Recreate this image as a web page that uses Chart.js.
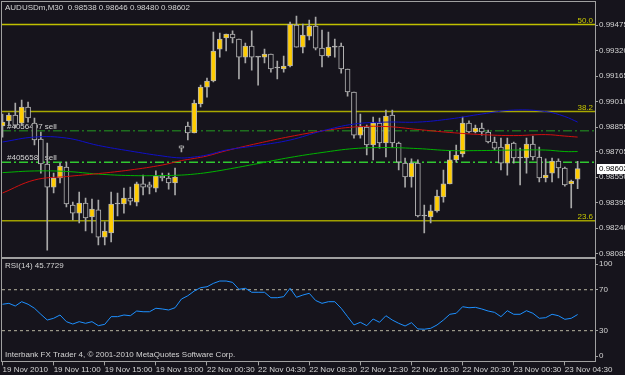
<!DOCTYPE html>
<html>
<head>
<meta charset="utf-8">
<title>AUDUSDm,M30</title>
<script src="https://cdn.jsdelivr.net/npm/chart.js@4.4.0/dist/chart.umd.min.js"></script>
<style>
  html, body { margin: 0; padding: 0; background: #16141c; }
  #wrap { position: relative; width: 625px; height: 375px; overflow: hidden; }
  #priceChart { position: absolute; left: 0; top: 0; }
  #rsiChart { position: absolute; left: 0; top: 257px; }
</style>
</head>
<body>
<div id="wrap">
  <canvas id="priceChart" width="625" height="258"></canvas>
  <canvas id="rsiChart" width="625" height="118"></canvas>
</div>
<script>
// AUDUSDm M30 bars, 19 Nov 07:00 .. 23 Nov 05:30
var opens = [0.98861,0.98892,0.98928,0.98879,0.98977,0.98879,0.98782,0.98630,0.98490,0.98545,
  0.98612,0.98381,0.98332,0.98393,0.98308,0.98351,0.98186,0.98211,0.98387,0.98387,
  0.98423,0.98399,0.98509,0.98503,0.98484,0.98557,0.98545,0.98515,0.98740,0.98861,
  0.98819,0.98995,0.99098,0.99135,0.99329,0.99396,0.99420,0.99390,0.99280,0.99347,
  0.99280,0.99280,0.99299,0.99214,0.99208,0.99226,0.99475,0.99341,0.99408,0.99469,
  0.99335,0.99287,0.99341,0.99347,0.99208,0.99068,0.98806,0.98855,0.98746,0.98879,
  0.98758,0.98928,0.98758,0.98636,0.98551,0.98636,0.98314,0.98308,0.98345,0.98430,
  0.98509,0.98655,0.98691,0.98879,0.98825,0.98849,0.98825,0.98764,0.98733,0.98636,
  0.98758,0.98667,0.98667,0.98752,0.98673,0.98545,0.98575,0.98648,0.98606,0.98509,
  0.98538];
var highs = [0.98934,0.98940,0.99001,0.99019,0.99007,0.98910,0.98825,0.98758,0.98575,0.98636,
  0.98642,0.98399,0.98460,0.98423,0.98417,0.98411,0.98278,0.98460,0.98454,0.98484,
  0.98490,0.98521,0.98563,0.98521,0.98588,0.98575,0.98575,0.98606,0.98740,0.98885,
  0.99019,0.99110,0.99153,0.99432,0.99426,0.99420,0.99439,0.99390,0.99366,0.99439,
  0.99280,0.99329,0.99299,0.99256,0.99287,0.99493,0.99530,0.99481,0.99505,0.99524,
  0.99445,0.99432,0.99390,0.99366,0.99208,0.99068,0.98934,0.98867,0.98916,0.98910,
  0.98958,0.98958,0.98764,0.98667,0.98661,0.98655,0.98381,0.98381,0.98472,0.98594,
  0.98709,0.98746,0.98916,0.98892,0.98867,0.98879,0.98837,0.98794,0.98788,0.98788,
  0.98764,0.98727,0.98788,0.98800,0.98733,0.98661,0.98667,0.98661,0.98612,0.98533,
  0.98646];
var lows = [0.98794,0.98867,0.98849,0.98867,0.98885,0.98746,0.98575,0.98107,0.98454,0.98515,
  0.98369,0.98290,0.98272,0.98223,0.98211,0.98138,0.98138,0.98156,0.98314,0.98332,
  0.98381,0.98375,0.98442,0.98448,0.98460,0.98527,0.98478,0.98442,0.98703,0.98776,
  0.98819,0.98977,0.99037,0.99129,0.99280,0.99317,0.99366,0.99147,0.99244,0.99201,
  0.99110,0.99244,0.99189,0.99147,0.99189,0.99220,0.99341,0.99305,0.99384,0.99323,
  0.99220,0.99280,0.99280,0.99183,0.99043,0.98788,0.98788,0.98685,0.98655,0.98727,
  0.98673,0.98733,0.98594,0.98490,0.98490,0.98308,0.98211,0.98272,0.98338,0.98399,
  0.98509,0.98642,0.98673,0.98819,0.98819,0.98806,0.98758,0.98715,0.98594,0.98563,
  0.98636,0.98503,0.98575,0.98655,0.98521,0.98521,0.98521,0.98545,0.98496,0.98363,
  0.98480];
var closes = [0.98885,0.98928,0.98867,0.98977,0.98910,0.98776,0.98630,0.98490,0.98545,0.98618,
  0.98387,0.98332,0.98393,0.98302,0.98357,0.98186,0.98223,0.98387,0.98387,0.98423,
  0.98405,0.98509,0.98490,0.98490,0.98557,0.98545,0.98515,0.98551,0.98727,0.98819,
  0.99001,0.99098,0.99135,0.99317,0.99390,0.99420,0.99396,0.99280,0.99347,0.99280,
  0.99280,0.99299,0.99208,0.99214,0.99226,0.99481,0.99341,0.99414,0.99469,0.99335,
  0.99287,0.99341,0.99341,0.99208,0.99068,0.98806,0.98855,0.98746,0.98879,0.98758,
  0.98922,0.98758,0.98642,0.98551,0.98636,0.98314,0.98314,0.98345,0.98436,0.98509,
  0.98655,0.98685,0.98879,0.98825,0.98849,0.98825,0.98764,0.98727,0.98636,0.98752,
  0.98667,0.98667,0.98752,0.98673,0.98545,0.98563,0.98648,0.98606,0.98503,0.98527,
  0.98602];

// moving averages, read every few bars
var maIdx   = [0,5,10,15,20,25,28,30,32,35,40,45,50,55,60,65,70,75,80,85,88,90];
var maBlue  = [0.98764,0.98794,0.98788,0.98743,0.98709,0.98679,0.98667,0.98673,0.98685,0.98715,0.98743,
  0.98776,0.98831,0.98873,0.98885,0.98885,0.98904,0.98934,0.98958,0.98949,0.98919,0.98885];
var maRed   = [0.98454,0.98533,0.98554,0.98572,0.98594,0.98624,0.98651,0.98664,0.98679,0.98711,0.98756,
  0.98797,0.98831,0.98855,0.98858,0.98840,0.98822,0.98809,0.98803,0.98809,0.98800,0.98794];
var maGreen = [0.98578,0.98588,0.98585,0.98569,0.98560,0.98560,0.98563,0.98569,0.98578,0.98597,0.98633,
  0.98670,0.98700,0.98724,0.98730,0.98724,0.98712,0.98712,0.98715,0.98715,0.98706,0.98706];

var rsi = [55.8,56.7,54.1,58.3,55.8,51.9,46,40.4,42.1,45.3,
  38.8,36.5,38.8,37.2,38.8,34.9,36.2,43.7,43.7,45.3,
  44.6,49.2,48.5,48.5,51.9,51.2,50.2,52.4,60.9,64.1,
  68.7,72,72.9,76.2,78.5,78.5,77.2,70.4,71.4,67.5,
  67.5,67.5,62.2,62.2,63.2,71.4,62.6,64.8,66.5,59.5,
  56.7,58.3,58.3,51.9,43.7,35.6,38.2,34.9,41.4,38.2,
  44.6,40.4,37.2,34.6,37.8,31.7,31.4,32.3,35.6,40.4,
  46,47,53.4,52.4,52.8,51.2,49.2,47.9,43.7,49.5,
  46,46,49.5,47,42.1,42.7,46,44.6,41.1,42.1,
  45.7729];

var fibLevels = [0.99478, 0.98949, 0.98286];
var fibNames = ['50.0', '38.2', '23.6'];
var orderPrices = [0.98833, 0.98641];
var orderNames = ['#4056497 sell', '#4056587 sell'];

var priceTicks = [0.99475,0.99320,0.99165,0.99010,0.98855,0.98705,0.98550,0.98395,0.98240,0.98085];
var rsiTicks = [100, 70, 30, 0];
var rsiLevels = [70, 30];
var timeTickIdx = [0,8,16,24,32,40,48,56,64,72,80,88];
var timeTickLabels = ['19 Nov 2010','19 Nov 11:00','19 Nov 15:00','19 Nov 19:00','22 Nov 00:30','22 Nov 04:30',
  '22 Nov 08:30','22 Nov 12:30','22 Nov 16:30','22 Nov 20:30','23 Nov 00:30','23 Nov 04:30'];

var BG = '#16141c', FRAME = '#a0a0a0', TXT = '#d4d4d4';
var XMIN = -0.08, XMAX = 92.72;
var FONT = '"Liberation Sans", Arial, sans-serif';
Chart.defaults.font.family = FONT;
Chart.defaults.font.size = 8;

var last = closes.length - 1;

function hline(v, color, dash, width) {
  return { type: 'line', data: [{x: XMIN, y: v}, {x: XMAX, y: v}], borderColor: color,
    borderWidth: width, borderDash: dash, pointRadius: 0, order: 10 };
}
function maLine(vals, color) {
  return { type: 'line', data: maIdx.map(function(x, k) { return {x: x, y: vals[k]}; }),
    borderColor: color, borderWidth: 1, pointRadius: 0, tension: 0.4, order: 1 };
}
function frame(chart) {
  var a = chart.chartArea, ctx = chart.ctx;
  ctx.save();
  ctx.strokeStyle = FRAME; ctx.lineWidth = 1;
  ctx.strokeRect(Math.round(a.left) - 0.5, Math.round(a.top) - 0.5,
    Math.round(a.right - a.left) + 1, Math.round(a.bottom - a.top) + 1);
  ctx.restore();
}

var priceOverlay = {
  id: 'priceOverlay',
  beforeDatasetsDraw: function(chart) {
    var ctx = chart.ctx, ys = chart.scales.y, a = chart.chartArea;
    ctx.save();
    ctx.font = '8px ' + FONT;
    ctx.textAlign = 'right';
    ctx.fillStyle = '#c8c800';
    fibLevels.forEach(function(v, k) { ctx.fillText(fibNames[k], a.right - 2, ys.getPixelForValue(v) - 2); });
    ctx.textAlign = 'left';
    ctx.fillStyle = TXT;
    orderPrices.forEach(function(v, k) { ctx.fillText(orderNames[k], a.left + 5, ys.getPixelForValue(v) - 2); });
    ctx.restore();
  },
  afterDraw: function(chart) {
    var ctx = chart.ctx, ys = chart.scales.y, a = chart.chartArea;
    frame(chart);
    ctx.save();
    ctx.font = '8px ' + FONT;
    ctx.fillStyle = TXT;
    ctx.textBaseline = 'middle';
    ctx.fillText('AUDUSDm,M30  ' + [opens[last], highs[last], lows[last], closes[last]]
      .map(function(v) { return v.toFixed(5); }).join(' '), 5, 8);
    var py = Math.round(ys.getPixelForValue(closes[last]));
    ctx.fillStyle = '#ffffff';
    ctx.fillRect(a.right + 2, py - 5, 30, 10);
    ctx.fillStyle = '#000000';
    ctx.fillText(closes[last].toFixed(5), a.right + 4, py);
    ctx.restore();
  }
};

new Chart(document.getElementById('priceChart'), {
  type: 'bar',
  data: {
    datasets: [
      { type: 'bar', data: opens.map(function(o, i) { return {x: i, y: [lows[i], highs[i]]}; }),
        backgroundColor: '#a8a8a8', barThickness: 1, grouped: false, order: 5 },
      { type: 'bar', data: opens.map(function(o, i) { return {x: i, y: [o, closes[i]]}; }),
        backgroundColor: opens.map(function(o, i) {
          return closes[i] > o ? '#ffcc00' : (closes[i] < o ? BG : '#b4b4b4'); }),
        borderColor: '#b4b4b4', borderWidth: 1, borderSkipped: false, barThickness: 5,
        minBarLength: 1, grouped: false, order: 4 },
      maLine(maBlue, '#1010c8'),
      maLine(maRed, '#d01010'),
      maLine(maGreen, '#00b400'),
      hline(fibLevels[0], '#c0c000', [], 1.5),
      hline(fibLevels[1], '#a8a800', [], 1.5),
      hline(fibLevels[2], '#a0a000', [], 1.5),
      hline(orderPrices[0], '#1e6e1e', [9, 3, 2, 3], 1.5),
      hline(orderPrices[1], '#30c830', [9, 3, 2, 3], 1.5)
    ]
  },
  options: {
    responsive: false, animation: false, devicePixelRatio: 1,
    layout: { padding: { left: 2, top: 2, right: 0, bottom: 1.5 } },
    plugins: { legend: { display: false }, tooltip: { enabled: false } },
    scales: {
      x: { type: 'linear', min: XMIN, max: XMAX, offset: false, display: false },
      y: {
        position: 'right', min: 0.98068, max: 0.99615,
        afterBuildTicks: function(s) { s.ticks = priceTicks.map(function(v) { return {value: v}; }); },
        afterFit: function(s) { s.width = 30; s.paddingTop = 0; s.paddingBottom = 0; },
        ticks: { autoSkip: false, color: TXT, padding: 1, callback: function(v) { return v.toFixed(5); } },
        grid: { drawOnChartArea: false, tickLength: 3, color: FRAME },
        border: { color: FRAME }
      }
    }
  },
  plugins: [priceOverlay]
});

var rsiOverlay = {
  id: 'rsiOverlay',
  afterDraw: function(chart) {
    var ctx = chart.ctx;
    frame(chart);
    ctx.save();
    ctx.font = '8px ' + FONT;
    ctx.fillStyle = TXT;
    ctx.textBaseline = 'middle';
    ctx.fillText('RSI(14) ' + rsi[last].toFixed(4), 5, 9);
    ctx.fillText('Interbank FX Trader 4, \u00a9 2001-2010 MetaQuotes Software Corp.', 5, 98);
    ctx.restore();
  }
};

new Chart(document.getElementById('rsiChart'), {
  type: 'line',
  data: {
    datasets: [
      { data: rsi.map(function(v, i) { return {x: i, y: v}; }), borderColor: '#1e90ff',
        borderWidth: 1, pointRadius: 0, tension: 0, order: 1 },
      { data: [{x: XMIN, y: rsiLevels[0]}, {x: XMAX, y: rsiLevels[0]}], borderColor: '#b8b4a0',
        borderWidth: 1, borderDash: [3, 3], pointRadius: 0, order: 2 },
      { data: [{x: XMIN, y: rsiLevels[1]}, {x: XMAX, y: rsiLevels[1]}], borderColor: '#b8b4a0',
        borderWidth: 1, borderDash: [3, 3], pointRadius: 0, order: 2 }
    ]
  },
  options: {
    responsive: false, animation: false, devicePixelRatio: 1,
    layout: { padding: { left: 2, top: 2, right: 0, bottom: 0 } },
    plugins: { legend: { display: false }, tooltip: { enabled: false } },
    scales: {
      x: {
        type: 'linear', min: XMIN, max: XMAX, offset: false,
        afterBuildTicks: function(s) { s.ticks = timeTickIdx.map(function(v) { return {value: v}; }); },
        afterFit: function(s) { s.height = 13.6; s.paddingLeft = 0; s.paddingRight = 0; },
        ticks: { autoSkip: false, maxRotation: 0, align: 'start', padding: 0, color: TXT,
          callback: function(v, k) { return timeTickLabels[k]; } },
        grid: { drawOnChartArea: false, tickLength: 4, color: FRAME },
        border: { color: FRAME }
      },
      y: {
        position: 'right', min: 0, max: 100,
        // MT4 keeps the 100 and 0 labels inside the panel
        afterBuildTicks: function(s) {
          s.ticks = rsiTicks.map(function(v) { return {value: Math.min(Math.max(v, 5), 95)}; });
        },
        afterFit: function(s) { s.width = 30; s.paddingTop = 0; s.paddingBottom = 0; },
        ticks: { autoSkip: false, color: TXT, padding: 1,
          callback: function(v, k) { return String(rsiTicks[k]); } },
        grid: { drawOnChartArea: false, tickLength: 3, color: FRAME },
        border: { color: FRAME }
      }
    }
  },
  plugins: [rsiOverlay]
});
</script>
</body>
</html>
